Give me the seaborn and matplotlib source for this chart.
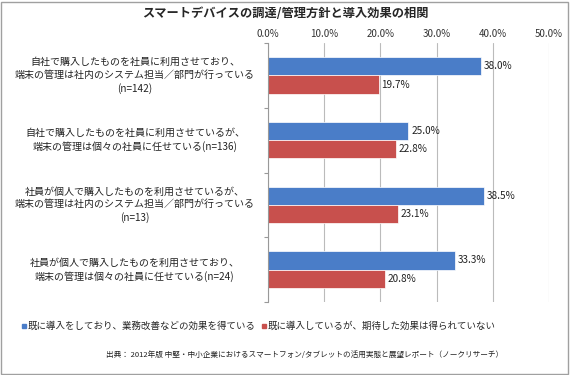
import pandas as pd
import seaborn as sns
import matplotlib.pyplot as plt
from matplotlib.patches import Rectangle

# data
categories = [
    '自社で購入したものを社員に利用させており、\n端末の管理は社内のシステム担当／部門が行っている\n(n=142)',
    '自社で購入したものを社員に利用させているが、\n端末の管理は個々の社員に任せている(n=136)',
    '社員が個人で購入したものを利用させているが、\n端末の管理は社内のシステム担当／部門が行っている\n(n=13)',
    '社員が個人で購入したものを利用させており、\n端末の管理は個々の社員に任せている(n=24)',
]
series = ['既に導入をしており、業務改善などの効果を得ている',
          '既に導入しているが、期待した効果は得られていない']
effect_yes = [38.0, 25.0, 38.5, 33.3]
effect_no = [19.7, 22.8, 23.1, 20.8]
xticks = [0, 10, 20, 30, 40, 50]

df = pd.DataFrame({
    'cat': categories * 2,
    'series': [series[0]] * 4 + [series[1]] * 4,
    'value': effect_yes + effect_no,
})

#%% plot
sns.set_style('white')
plt.rcParams['font.family'] = ['Noto Sans CJK JP', 'DejaVu Sans']

fig = plt.figure(figsize=(5.7, 3.75), dpi=100)
ax = fig.add_axes([0.470, 0.195, 0.493, 0.69])
colors = ['#4A7DC8', '#C8504D']
sns.barplot(data=df, y='cat', x='value', hue='series', palette=colors,
            orient='h', width=0.56, ax=ax, legend=False, saturation=1,
            edgecolor='white', linewidth=0.5)

ax.set_xlim(0, 50)
ax.set_xticks(xticks)
ax.set_xticklabels([f'{t:.1f}%' for t in xticks], fontsize=7, color='#333333')
ax.xaxis.tick_top()
ax.tick_params(axis='x', length=0, pad=3)
ax.grid(axis='x', color='#BBBBBB', linewidth=0.8)
ax.set_axisbelow(True)
ax.set_xlabel('')
ax.set_ylabel('')
for s in ['top', 'right', 'bottom']:
    ax.spines[s].set_visible(False)
ax.spines['left'].set_color('#999999')
ax.spines['left'].set_linewidth(0.8)

# category labels (centered, multi-line)
ax.set_yticks([i + 0.5 for i in range(-1, 4)])
ax.set_yticklabels([])
ax.tick_params(axis='y', length=3, color='#999999', left=True)
ax.set_ylim(3.5, -0.5)
for i, c in enumerate(categories):
    ax.text(-0.473, i, c, transform=ax.get_yaxis_transform(), ha='center',
            va='center', fontsize=7.2, color='#222222', linespacing=1.35,
            multialignment='center')

# value labels
for cont in ax.containers:
    ax.bar_label(cont, fmt='%.1f%%', padding=2, fontsize=7.2, color='#222222')

# title
fig.text(0.5, 0.965, 'スマートデバイスの調達/管理方針と導入効果の相関',
         ha='center', va='center', fontsize=8.8, fontweight='bold')

# legend
handles = [plt.Line2D([], [], marker='s', linestyle='', color=c, markersize=3.5)
           for c in colors]
fig.legend(handles, series, loc='center', bbox_to_anchor=(258 / 570, 1 - 326 / 375),
           ncol=2, frameon=False, fontsize=6.8, handletextpad=0.05,
           columnspacing=0.4, handlelength=0.8)

# source
fig.text(503 / 570, 1 - 355 / 375,
         '出典： 2012年版 中堅・中小企業におけるスマートフォン/タブレットの活用実態と展望レポート（ノークリサーチ）',
         ha='right', va='center', fontsize=5.5, color='#222222')

# border
fig.patches.append(Rectangle((0.002, 0.003), 0.995, 0.993, transform=fig.transFigure,
                             fill=False, edgecolor='#A0A0A0', linewidth=1))

plt.savefig('out.png', dpi=100)
